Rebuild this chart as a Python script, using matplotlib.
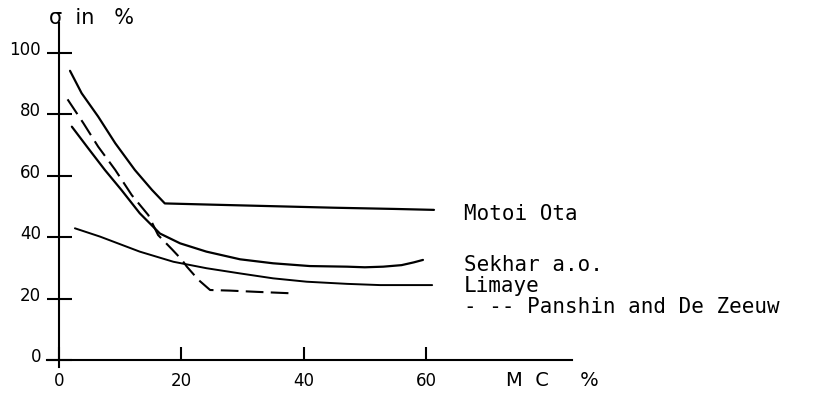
import matplotlib
matplotlib.use("Agg")
import matplotlib.pyplot as plt
from matplotlib.transforms import ScaledTranslation

# Standard deviation of strength (sigma, %) versus moisture content (MC, %)
motoi_x = [1.8, 3.7, 6.4, 9.2, 12.4, 15.2, 17.3, 25, 35, 45, 55, 61.3]
motoi_y = [94.2, 86.9, 79.3, 70.6, 61.9, 55.4, 51.0, 50.6, 50.1, 49.6, 49.2, 48.9]

sekhar_x = [2.1, 4.8, 7.5, 10.2, 13.2, 16.5, 19.8, 24.1, 29.6, 35, 41, 47.1, 50, 53, 56, 58, 59.5]
sekhar_y = [76.0, 68.9, 61.9, 55.4, 47.8, 41.2, 38.0, 35.3, 32.8, 31.5, 30.6, 30.4, 30.2, 30.4, 30.9, 31.8, 32.6]

limaye_x = [2.6, 6.7, 13.2, 18.7, 24.1, 29.6, 35, 40.5, 47.1, 52.5, 61]
limaye_y = [42.9, 40.2, 35.3, 32.0, 29.9, 28.2, 26.6, 25.5, 24.8, 24.4, 24.4]

panshin_x = [1.4, 4.0, 6.4, 9.2, 11.9, 14.6, 16.2, 18.5, 20.1, 20.9, 22.8, 24.7, 28, 32.3, 38.3]
panshin_y = [84.9, 77.1, 69.5, 61.9, 53.7, 47.2, 40.7, 36.0, 32.6, 30.4, 26.1, 22.8, 22.6, 22.2, 21.7]

x_ticks = [0, 20, 40, 60]
y_ticks = [0, 20, 40, 60, 80, 100]

series_labels = ["Motoi Ota", "Sekhar a.o.", "Limaye", "- -- Panshin and De Zeeuw"]
label_pos_y = [45.6, 29.0, 22.1, 15.3]
label_pos_x = 66.2

fig = plt.figure(figsize=(8.15, 3.93), dpi=100)
ax = fig.add_axes([0, 0, 1, 1])
ax.set_xlim(-59 / 6.117, (815 - 59) / 6.117)
ax.set_ylim(-33 / 3.07, 360 / 3.07)
ax.patch.set_visible(False)

ink = "black"
lw = 1.6
ax.plot(motoi_x, motoi_y, color=ink, lw=lw, solid_capstyle="round")
ax.plot(sekhar_x, sekhar_y, color=ink, lw=lw, solid_capstyle="round")
ax.plot(limaye_x, limaye_y, color=ink, lw=1.4, solid_capstyle="round")
ax.plot(panshin_x, panshin_y, color=ink, lw=1.5, dashes=(8.5, 3.5))

# Axes drawn as crossing lines through the origin
for side in ("top", "right"):
    ax.spines[side].set_visible(False)
ax.spines["left"].set_position(("data", 0))
ax.spines["bottom"].set_position(("data", 0))
ax.spines["left"].set_bounds(-2.3, 109.8)
ax.spines["bottom"].set_bounds(-2.0, 83.9)
for side in ("left", "bottom"):
    ax.spines[side].set_linewidth(1.5)
    ax.spines[side].set_color(ink)

hand = dict(family="DejaVu Sans", size=12)
ax.set_xticks(x_ticks)
ax.set_yticks(y_ticks)
ax.set_xticklabels([str(v) for v in x_ticks], fontdict=hand)
ax.set_yticklabels([str(v) for v in y_ticks], fontdict=hand)
ax.tick_params(axis="x", direction="in", length=9.5, width=1.5, pad=9)
ax.tick_params(axis="y", direction="inout", length=18, width=1.5, pad=4)

for lab in ax.get_yticklabels():
    lab.set_transform(lab.get_transform() + ScaledTranslation(0, 0.05, fig.dpi_scale_trans))

ax.set_xlabel("M  C     %", fontdict=dict(family="DejaVu Sans", size=14))
ax.xaxis.set_label_coords(552 / 815, 1 - 380 / 393)
ax.xaxis.label.set_va("center")

ax.set_ylabel("σ  in   %", rotation=0, fontdict=dict(family="DejaVu Sans", size=15))
ax.yaxis.set_label_coords(49 / 815, 1 - 18 / 393)
ax.yaxis.label.set_ha("left")
ax.yaxis.label.set_va("center")

for text, yy in zip(series_labels, label_pos_y):
    ax.text(label_pos_x, yy, text, family="DejaVu Sans Mono", fontsize=15,
            ha="left", va="baseline", color=ink)

fig.savefig("out.png", dpi=100)
